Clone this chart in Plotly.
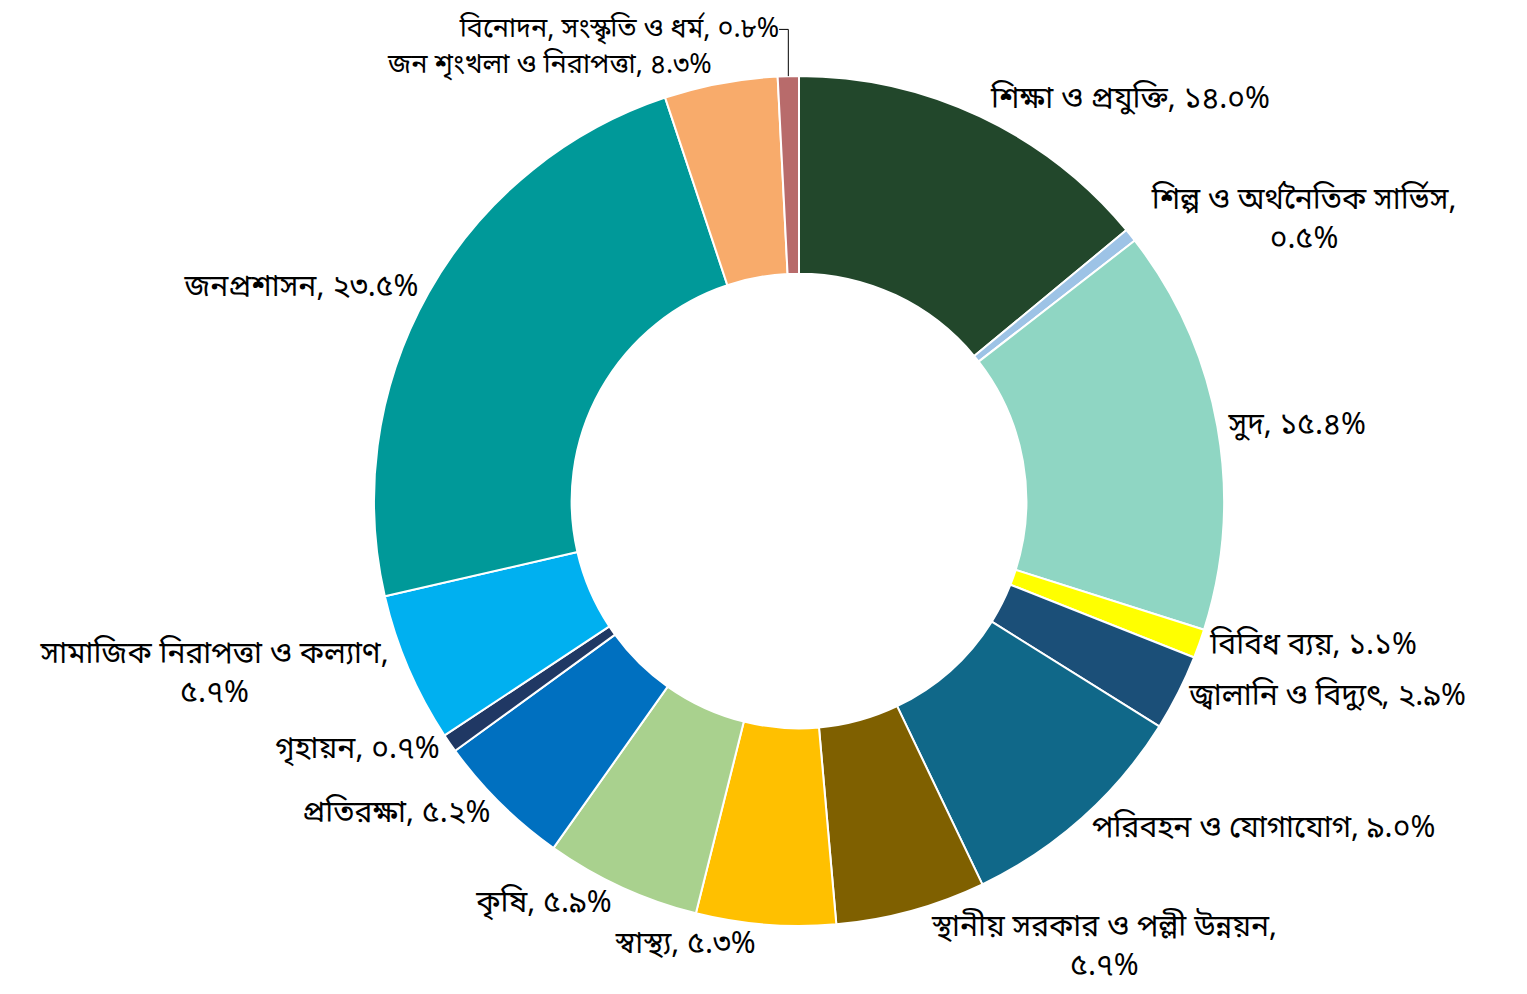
import plotly.graph_objects as go

labels = [
    "শিক্ষা ও প্রযুক্তি",
    "শিল্প ও অর্থনৈতিক সার্ভিস",
    "সুদ",
    "বিবিধ ব্যয়",
    "জ্বালানি ও বিদ্যুৎ",
    "পরিবহন ও যোগাযোগ",
    "স্থানীয় সরকার ও পল্লী উন্নয়ন",
    "স্বাস্থ্য",
    "কৃষি",
    "প্রতিরক্ষা",
    "গৃহায়ন",
    "সামাজিক নিরাপত্তা ও কল্যাণ",
    "জনপ্রশাসন",
    "জন শৃংখলা ও নিরাপত্তা",
    "বিনোদন, সংস্কৃতি ও ধর্ম",
]
values = [14.0, 0.5, 15.4, 1.1, 2.9, 9.0, 5.7, 5.3, 5.9, 5.2, 0.7, 5.7, 23.5, 4.3, 0.8]
pct_text = ["১৪.০%", "০.৫%", "১৫.৪%", "১.১%", "২.৯%", "৯.০%", "৫.৭%", "৫.৩%",
            "৫.৯%", "৫.২%", "০.৭%", "৫.৭%", "২৩.৫%", "৪.৩%", "০.৮%"]
wrap = [False, True, False, False, False, False, True, False, False, False, False, True, False, False, False]
colors = ["#22472B", "#9DC3E6", "#8FD6C3", "#FFFF00", "#1B4F78", "#106889", "#7F6000",
          "#FFC000", "#A9D18E", "#0070C0", "#203864", "#00B0F0", "#009999", "#F8AB6B", "#B86B6B"]
label_sizes = [30, 30, 30, 30, 30, 30, 30, 30, 30, 30, 30, 30, 30, 27, 27]

texts = [f"{l},<br>{p}" if w else f"{l}, {p}" for l, p, w in zip(labels, pct_text, wrap)]
font_family = "Noto Sans Bengali, Noto Sans, sans-serif"

fig = go.Figure(go.Pie(
    labels=labels,
    values=values,
    text=texts,
    textinfo="text",
    textposition="outside",
    automargin=False,
    sort=False,
    direction="clockwise",
    rotation=0,
    hole=0.535,
    marker=dict(colors=colors, line=dict(color="white", width=2)),
    textfont=dict(size=label_sizes, color="black", family=font_family),
    showlegend=False,
))
fig.update_layout(
    width=1527, height=994,
    margin=dict(l=64, r=9, t=68, b=76, autoexpand=False),
    paper_bgcolor="white",
    plot_bgcolor="white",
)
fig.write_html("out.html")
